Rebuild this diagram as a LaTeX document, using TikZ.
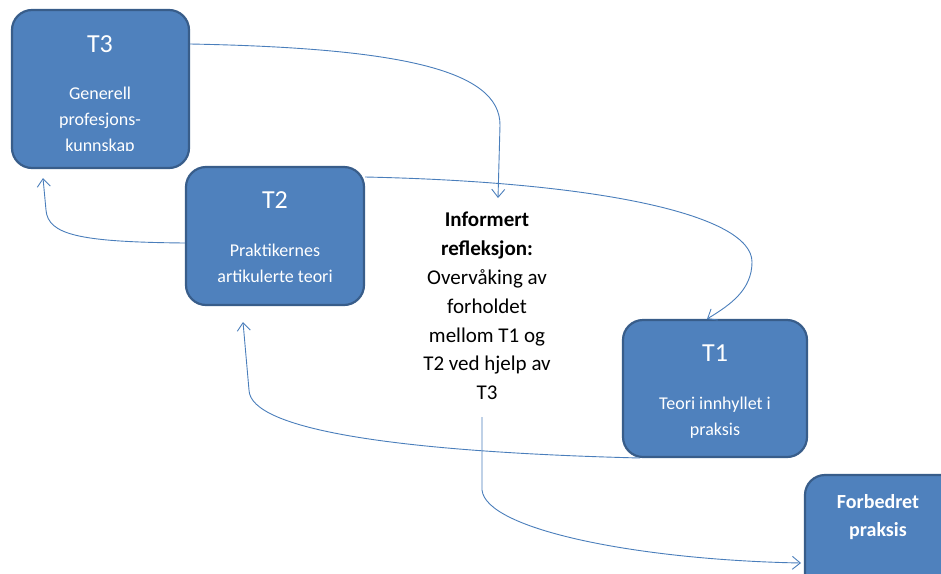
\documentclass[tikz,border=0pt]{standalone}
\usepackage{fontspec}
\setmainfont{Carlito}
\usetikzlibrary{arrows.meta}
\definecolor{boxfill}{HTML}{4F81BD}
\definecolor{boxline}{HTML}{385D8A}
\definecolor{connc}{HTML}{4A7EBB}
\begin{document}
\begin{tikzpicture}[x=1pt,y=-1pt,
  box/.style={draw=boxline, line width=2.2pt, fill=boxfill, rounded corners=20pt, inner sep=0pt},
  boxtext/.style={text=white, align=center, font=\fontsize{18}{26}\selectfont, inner sep=0pt},
  boxtitle/.style={text=white, font=\fontsize{26}{30}\selectfont, inner sep=0pt},
  midtext/.style={text=black, align=center, font=\fontsize{21}{28.8}\selectfont, inner sep=0pt},
  conn/.style={draw=connc, line width=0.9pt, -{Straight Barb[length=8pt,width=13pt]}}]
\useasboundingbox (0,0) rectangle (941,573);
\clip (0,0) rectangle (941,573);
% boxes
\node[box, minimum width=177pt, minimum height=158pt] (t3) at (100.5,89) {};
\node[box, minimum width=178pt, minimum height=138pt] (t2) at (275,236) {};
\node[box, minimum width=184pt, minimum height=137pt] (t1) at (715,388.5) {};
\node[box, minimum width=200pt, minimum height=170pt] (fp) at (905,560) {};
% texts
\node[boxtitle] (t3title) at (100,44) {T3};
\begin{scope}
\clip (12,10) rectangle (189,150.5);
\node[boxtext] (t3body) at (100,121) {Generell\\profesjons-\\kunnskap};
\end{scope}
\node[boxtitle] (t2title) at (275,200) {T2};
\node[boxtext] (t2body) at (275,263) {Praktikernes\\artikulerte teori};
\node[boxtitle] (t1title) at (715,353) {T1};
\node[boxtext] (t1body) at (715,418) {Teori innhyllet i\\praksis};
\node[boxtext, font=\fontsize{20}{28}\selectfont\bfseries] (fpbody) at (878,517) {Forbedret\\praksis};
\node[midtext] (info) at (487,306) {\textbf{Informert}\\\textbf{refleksjon:}\\Overvåking av\\forholdet\\mellom T1 og\\T2 ved hjelp av\\T3};
% connector end points
\coordinate (a1) at (498,198);
\coordinate (a2) at (707,319);
\coordinate (a3) at (43,178);
\coordinate (a4) at (243,322);
\coordinate (s5) at (482,417);
\coordinate (a5) at (801,563);
% connectors
\draw[conn] (t3.east |- 0,44) .. controls (400,48) and (500,70) .. (500,125) -- (a1);
\draw[conn] (t2.east |- 0,177) .. controls (600,182) and (752,215) .. (752,262) .. controls (752,290) and (730,305) .. (a2);
\draw[conn] (t2.west |- 0,243) .. controls (80,242) and (48,235) .. (46,210) -- (a3);
\draw[conn] (640,458) .. controls (400,452) and (250,430) .. (249,390) -- (a4);
\draw[conn] (s5) -- (482,490) .. controls (486,530) and (640,560) .. (a5);
\end{tikzpicture}
\end{document}
